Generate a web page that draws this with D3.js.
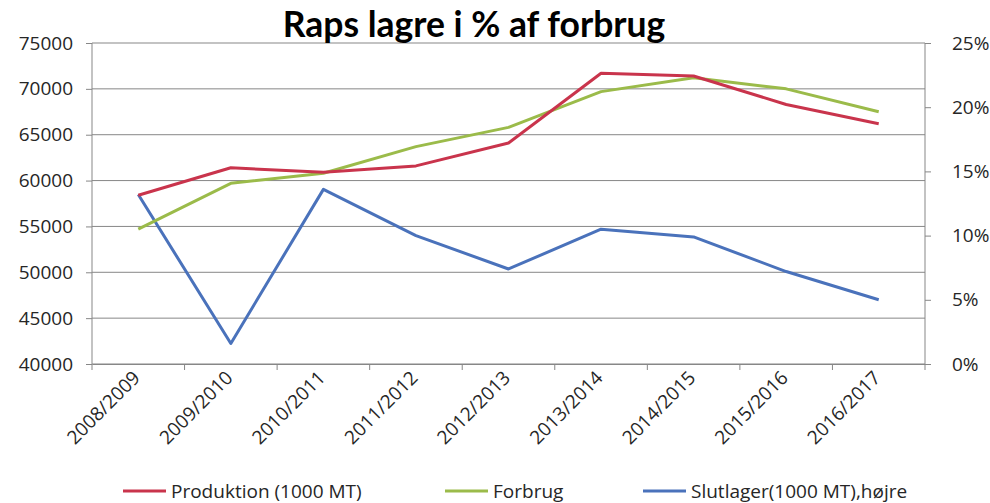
<!DOCTYPE html>
<html>
<head>
<meta charset="utf-8">
<script src="https://cdnjs.cloudflare.com/ajax/libs/d3/7.8.5/d3.min.js"></script>
<style>
  body { margin: 0; background: #fff; }
  text { font-family: "Open Sans", "Noto Sans", sans-serif; }
</style>
</head>
<body>
<svg id="chart" width="990" height="503"></svg>
<script>
// Data
const seasons = ["2008/2009", "2009/2010", "2010/2011", "2011/2012", "2012/2013",
                 "2013/2014", "2014/2015", "2015/2016", "2016/2017"];
const produktion = [58400, 61400, 60900, 61600, 64100, 71700, 71400, 68300, 66200];
const forbrug    = [54700, 59700, 60800, 63700, 65800, 69700, 71200, 70000, 67500];
const slutlager  = [0.132, 0.016, 0.136, 0.100, 0.074, 0.105, 0.099, 0.072, 0.050];
const leftTicks  = [40000, 45000, 50000, 55000, 60000, 65000, 70000, 75000];
const rightTicks = [0, 0.05, 0.10, 0.15, 0.20, 0.25];

// Plot area
const margin = { top: 43, right: 65, bottom: 139, left: 92 };
const width = 990 - margin.left - margin.right;
const height = 503 - margin.top - margin.bottom;
const fontSize = "19px";

const svg = d3.select("#chart");
const g = svg.append("g").attr("transform", `translate(${margin.left}, ${margin.top})`);

const x = d3.scaleBand().domain(seasons).range([0, width]);
const yLeft = d3.scaleLinear().domain([40000, 75000]).range([height, 0]);
const yRight = d3.scaleLinear().domain([0, 0.25]).range([height, 0]);

// Gridlines
g.selectAll(".grid")
  .data(leftTicks)
  .join("line")
  .attr("x1", 0).attr("x2", width)
  .attr("y1", d => yLeft(d)).attr("y2", d => yLeft(d))
  .attr("stroke", "#878787").attr("stroke-width", 1);

// Left axis
const leftAxis = g.append("g")
  .call(d3.axisLeft(yLeft).tickValues(leftTicks).tickSize(6).tickPadding(13).tickFormat(d3.format("d")));

// Right axis
const rightAxis = g.append("g")
  .attr("transform", `translate(${width}, 0)`)
  .call(d3.axisRight(yRight).tickValues(rightTicks).tickSize(6).tickPadding(21).tickFormat(d3.format(".0%")));

// Bottom axis
const bottomAxis = g.append("g")
  .attr("transform", `translate(0, ${height})`)
  .call(d3.axisBottom(x).tickSize(0).tickFormat(""));

// Category boundary ticks
g.selectAll(".xtick")
  .data(seasons.concat(["end"]))
  .join("line")
  .attr("x1", (d, i) => i * x.bandwidth()).attr("x2", (d, i) => i * x.bandwidth())
  .attr("y1", height).attr("y2", height + 6)
  .attr("stroke", "#878787");

[leftAxis, rightAxis, bottomAxis].forEach(a => {
  a.select(".domain").attr("stroke", "#878787");
  a.selectAll(".tick line").attr("stroke", "#878787");
  a.selectAll("text").attr("fill", "#262626").style("font-size", fontSize);
});
leftAxis.select(".domain").attr("d", `M0,${height}V0`);
rightAxis.select(".domain").attr("d", `M0,${height}V0`);

// Rotated category labels
g.selectAll(".xlabel")
  .data(seasons)
  .join("text")
  .attr("transform", d => `translate(${x(d) + x.bandwidth() / 2 + 3}, ${height + 15}) rotate(-45)`)
  .attr("text-anchor", "end")
  .attr("fill", "#262626")
  .style("font-size", fontSize)
  .text(d => d);

// Lines
const series = [
  { name: "Produktion (1000 MT)", values: produktion, scale: yLeft, color: "#c9344c" },
  { name: "Forbrug", values: forbrug, scale: yLeft, color: "#9bbb4a" },
  { name: "Slutlager(1000 MT),højre", values: slutlager, scale: yRight, color: "#4a72bb" }
];

series.slice().reverse().forEach(s => {
  const line = d3.line()
    .x((d, i) => x(seasons[i]) + x.bandwidth() / 2)
    .y(d => s.scale(d));
  g.append("path")
    .datum(s.values)
    .attr("d", line)
    .attr("fill", "none")
    .attr("stroke", s.color)
    .attr("stroke-width", 3)
    .attr("stroke-linejoin", "round");
});

// Title
svg.append("text")
  .attr("x", 474).attr("y", 37)
  .attr("text-anchor", "middle")
  .attr("fill", "#000")
  .style("font-family", "Lato, 'Open Sans', sans-serif")
  .style("font-weight", "bold")
  .style("font-size", "35.5px")
  .text("Raps lagre i % af forbrug");

// Legend
const legendX = [123, 445, 643];
const legend = svg.selectAll(".legend")
  .data(series)
  .join("g")
  .attr("transform", (d, i) => `translate(${legendX[i]}, 491)`);
legend.append("line")
  .attr("x1", 0).attr("x2", 43)
  .attr("y1", 0).attr("y2", 0)
  .attr("stroke", d => d.color).attr("stroke-width", 3);
legend.append("text")
  .attr("x", 48).attr("y", 7)
  .attr("fill", "#262626")
  .style("font-size", fontSize)
  .text(d => d.name);
</script>
</body>
</html>
